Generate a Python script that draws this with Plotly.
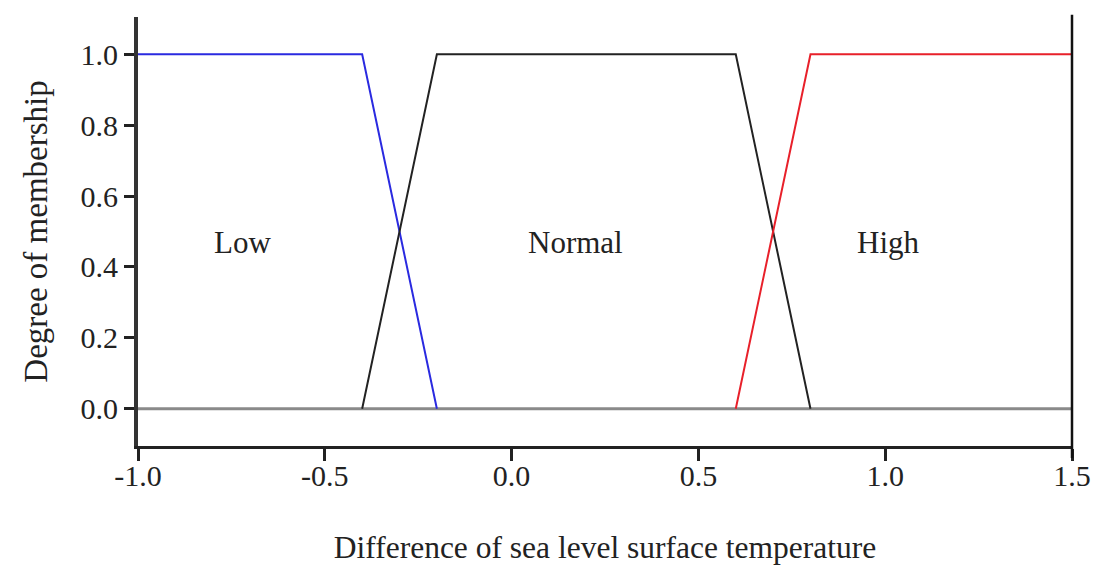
import plotly.graph_objects as go

# Membership functions
low_x = [-1.0, -0.4, -0.2]
low_y = [1.0, 1.0, 0.0]
normal_x = [-0.4, -0.2, 0.6, 0.8]
normal_y = [0.0, 1.0, 1.0, 0.0]
high_x = [0.6, 0.8, 1.5]
high_y = [0.0, 1.0, 1.0]
base_x = [-1.0, 1.5]
base_y = [0.0, 0.0]

x_ticks = [-1.0, -0.5, 0.0, 0.5, 1.0, 1.5]
x_ticktext = ["-1.0", "-0.5", "0.0", "0.5", "1.0", "1.5"]
y_ticks = [0.0, 0.2, 0.4, 0.6, 0.8, 1.0]
y_ticktext = ["0.0", "0.2", "0.4", "0.6", "0.8", "1.0"]

labels = ["Low", "Normal", "High"]
label_x = [-0.72, 0.17, 1.01]
label_y = [0.47, 0.47, 0.47]

FONT = "Liberation Serif, Times New Roman, serif"

fig = go.Figure()
fig.add_trace(go.Scatter(x=base_x, y=base_y, mode="lines",
                         line=dict(color="#8a8a8a", width=3), showlegend=False))
fig.add_trace(go.Scatter(x=low_x, y=low_y, mode="lines",
                         line=dict(color="#2a2ae0", width=2), showlegend=False))
fig.add_trace(go.Scatter(x=normal_x, y=normal_y, mode="lines",
                         line=dict(color="#222222", width=2), showlegend=False))
fig.add_trace(go.Scatter(x=high_x, y=high_y, mode="lines",
                         line=dict(color="#e8202a", width=2), showlegend=False))

for t, xx, yy in zip(labels, label_x, label_y):
    fig.add_annotation(x=xx, y=yy, text=t, showarrow=False,
                       font=dict(family=FONT, size=31, color="#222"))

# right-hand frame line
fig.add_shape(type="line", xref="x domain", yref="y domain",
              x0=1, x1=1, y0=-0.028, y1=1.005,
              line=dict(color="#111", width=2.5))

fig.update_layout(
    width=1094, height=568,
    margin=dict(l=138, r=22, t=17, b=122, autoexpand=False),
    paper_bgcolor="white", plot_bgcolor="white",
    font=dict(family=FONT, size=30, color="#222"),
    showlegend=False,
)
fig.update_xaxes(
    range=[-1.0, 1.5], tickvals=x_ticks, ticktext=x_ticktext,
    showgrid=False, zeroline=False, automargin=False,
    showline=True, linecolor="#222", linewidth=3,
    ticks="outside", ticklen=12, tickwidth=3, tickcolor="#222",
    ticklabelstandoff=-11,
    tickfont=dict(family=FONT, size=30, color="#222"),
    title=dict(text="Difference of sea level surface temperature",
               font=dict(family=FONT, size=31.5, color="#222"), standoff=45),
)
fig.update_yaxes(
    range=[-0.105, 1.105], tickvals=y_ticks, ticktext=y_ticktext,
    showgrid=False, zeroline=False, automargin=False,
    showline=True, linecolor="#333", linewidth=4,
    ticks="outside", ticklen=10, tickwidth=2.5, tickcolor="#222",
    tickfont=dict(family=FONT, size=30, color="#222"),
    title=dict(text="Degree of membership",
               font=dict(family=FONT, size=33, color="#222"), standoff=24),
)

fig.write_html("out.html", config={"displayModeBar": False},
               post_script="document.body.style.margin='0';document.body.style.overflow='hidden';")
